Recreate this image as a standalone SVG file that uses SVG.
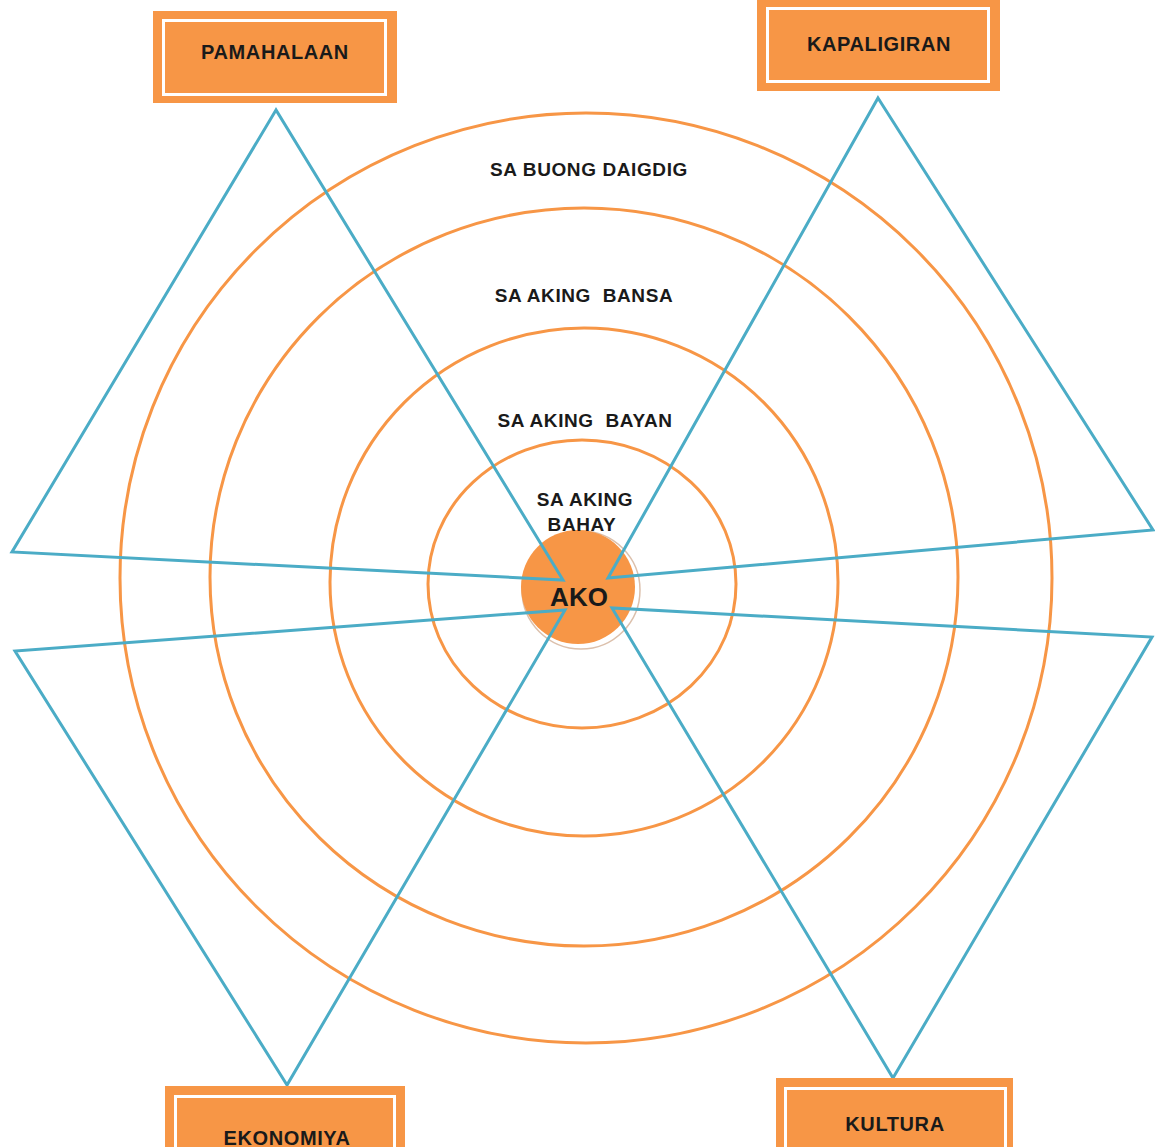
<svg xmlns="http://www.w3.org/2000/svg" width="1155" height="1147" viewBox="0 0 1155 1147">
<style>
.ring{fill:none;stroke:#f79646;stroke-width:3}
.tri{fill:none;stroke:#4bacc6;stroke-width:3;stroke-linejoin:miter}
.box{fill:#f79646}
.boxline{fill:none;stroke:#ffffff;stroke-width:3}
.lbl{font-family:"Liberation Sans",Arial,sans-serif;font-weight:bold;font-size:20px;letter-spacing:0.6px;fill:#1a1a1a;text-anchor:middle}
.ring-lbl{font-family:"Liberation Sans",Arial,sans-serif;font-weight:bold;font-size:19px;letter-spacing:0.6px;fill:#1a1a1a;text-anchor:middle}
</style>
<rect width="1155" height="1147" fill="#ffffff"/>
<g id="rings">
<ellipse class="ring" cx="586" cy="578" rx="466" ry="465"/>
<ellipse class="ring" cx="584" cy="577" rx="374" ry="369"/>
<ellipse class="ring" cx="584" cy="582" rx="254" ry="254"/>
<ellipse class="ring" cx="582" cy="584" rx="154" ry="144"/>
</g>
<g id="ako-circle">
<circle cx="581" cy="590" r="59" fill="none" stroke="#dcc0ac" stroke-width="1.5"/>
<circle cx="578" cy="587" r="57" fill="#f79646"/>
</g>
<g id="connectors">
<polygon class="tri" points="276,110 12,552 563,580"/>
<polygon class="tri" points="878,98 1153,530 608,578"/>
<polygon class="tri" points="287,1085 15,651 565,610"/>
<polygon class="tri" points="893,1078 1152,637 612,608"/>
</g>
<g id="ako">
<text x="579" y="606" font-family="'Liberation Sans',Arial,sans-serif" font-weight="bold" font-size="26" fill="#1a1a1a" text-anchor="middle">AKO</text>
</g>
<g id="label-daigdig"><text class="ring-lbl" x="589" y="176">SA BUONG DAIGDIG</text></g>
<g id="label-bansa"><text class="ring-lbl" x="584" y="302" xml:space="preserve">SA AKING  BANSA</text></g>
<g id="label-bayan"><text class="ring-lbl" x="585" y="427" xml:space="preserve">SA AKING  BAYAN</text></g>
<g id="label-bahay"><text class="ring-lbl" x="585" y="506">SA AKING</text><text class="ring-lbl" x="582" y="531">BAHAY</text></g>
<g id="pamahalaan">
<rect class="box" x="153" y="11" width="244" height="92"/>
<rect class="boxline" x="163.5" y="20.5" width="222" height="74"/>
<text class="lbl" x="275" y="59">PAMAHALAAN</text>
</g>
<g id="kapaligiran">
<rect class="box" x="757" y="0" width="243" height="91"/>
<rect class="boxline" x="767.5" y="8.5" width="221" height="73"/>
<text class="lbl" x="879" y="51">KAPALIGIRAN</text>
</g>
<g id="ekonomiya">
<rect class="box" x="165" y="1086" width="240" height="70"/>
<rect class="boxline" x="175.5" y="1096.5" width="219" height="60"/>
<text class="lbl" x="287" y="1145">EKONOMIYA</text>
</g>
<g id="kultura">
<rect class="box" x="776" y="1078" width="237" height="78"/>
<rect class="boxline" x="785.5" y="1088.5" width="220" height="70"/>
<text class="lbl" x="895" y="1131">KULTURA</text>
</g>
</svg>
